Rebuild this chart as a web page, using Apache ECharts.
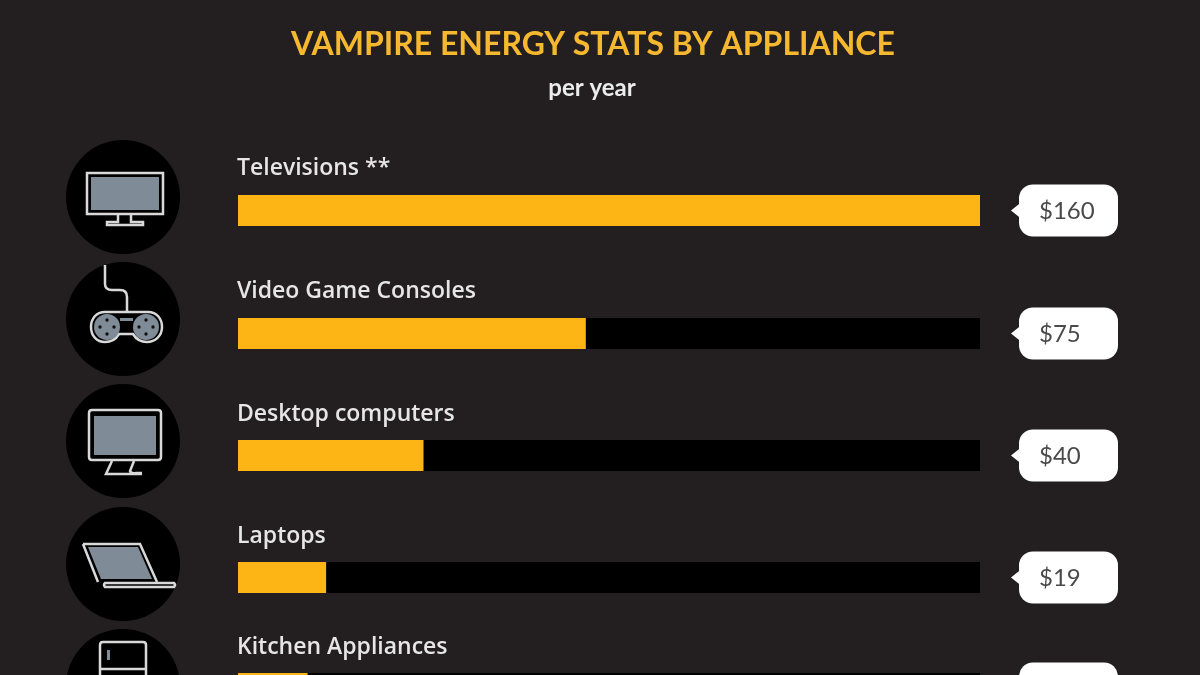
<!DOCTYPE html>
<html>
<head>
<meta charset="utf-8">
<style>
  html, body { margin: 0; padding: 0; background: #231f20; }
  #chart { width: 1200px; height: 675px; }
</style>
</head>
<body>
<div id="chart"></div>
<script src="https://cdn.jsdelivr.net/npm/echarts@6/dist/echarts.min.js"></script>
<script>
const categories = ['Televisions **', 'Video Game Consoles', 'Desktop computers', 'Laptops', 'Kitchen Appliances'];
const costs = [160, 75, 40, 19, 15];
const axisMax = 160;

// layout of the rows, the last one runs off the page
const barTops = [195, 318, 440, 562, 673];
const labelGaps = [38, 38, 37, 37, 37];
const barHeight = 31;
const yellow = '#fdb515';
const line = '#d9d9d9';
const screen = '#7f8b97';

let grids = [], xAxes = [], yAxes = [], series = [];

categories.forEach((name, i) => {
  grids.push({ left: 238, width: 742, top: barTops[i], height: barHeight, outerBoundsMode: 'none' });
  xAxes.push({ gridIndex: i, type: 'value', min: 0, max: axisMax, show: false });
  yAxes.push({ gridIndex: i, type: 'category', data: [name], show: false });
  series.push({
    type: 'bar',
    xAxisIndex: i,
    yAxisIndex: i,
    data: [costs[i]],
    barWidth: '100%',
    silent: true,
    showBackground: true,
    backgroundStyle: { color: '#000' },
    itemStyle: { color: yellow },
    label: {
      show: true,
      position: [-1, -labelGaps[i]],
      formatter: '{b}',
      color: '#e6e6e6',
      fontFamily: 'Open Sans',
      fontWeight: 600,
      fontSize: 23
    }
  });
  // value bubble, hangs off the end of the axis
  series.push({
    type: 'custom',
    xAxisIndex: i,
    yAxisIndex: i,
    silent: true,
    clip: false,
    data: [[axisMax, name, costs[i]]],
    encode: { x: 0, y: 1 },
    renderItem: (params, api) => {
      let p = api.coord([api.value(0), 0]);
      let x = p[0] + 39, y = p[1];
      return {
        type: 'group',
        children: [
          { type: 'polygon', shape: { points: [[x - 8, y], [x + 2, y - 8], [x + 2, y + 8]] }, style: { fill: '#fff' } },
          { type: 'rect', shape: { x: x, y: y - 26, width: 99, height: 52, r: 14 }, style: { fill: '#fff' } },
          { type: 'text', x: x + 20, y: y + 1, style: { text: '$' + api.value(2), fill: '#4a4a4a', font: '24px Lato', textAlign: 'left', textVerticalAlign: 'middle' } }
        ]
      };
    }
  });
});

function outline(d, fill) {
  return { type: 'path', shape: { pathData: d }, style: { fill: fill || 'none', stroke: line, lineWidth: 2.5 } };
}
function solid(d, fill) {
  return { type: 'path', shape: { pathData: d }, style: { fill: fill, stroke: 'none' } };
}
function disc(cy) {
  return { type: 'circle', shape: { cx: 123, cy: cy, r: 57 }, style: { fill: '#000' } };
}
function dots(cx, cy) {
  return [[0, -7], [0, 7], [-7, 0], [7, 0]].map(o => ({
    type: 'circle', shape: { cx: cx + o[0], cy: cy + o[1], r: 1.7 }, style: { fill: '#111' }
  }));
}
function ring(cx, cy) {
  return { type: 'circle', shape: { cx: cx, cy: cy, r: 13 }, style: { fill: screen } };
}

const icons = [
  disc(197), disc(319), disc(441), disc(564), disc(686),
  // tv
  outline('M87 173H163V214H87Z'),
  solid('M91 177H159V210H91Z', screen),
  outline('M118 214V222H107V225H143V222H131V214'),
  // game console
  outline('M105 265V284Q105 290 112 290H120Q127 290 127 297V312'),
  outline('M105 312H148C157 312 162 319 162 327C162 336 155 342 147 342C140 342 136 339 133 334H119C116 339 112 342 105 342C97 342 91 336 91 327C91 319 96 312 105 312Z'),
  ring(107, 327), ring(146, 327),
  ...dots(107, 327), ...dots(146, 327),
  solid('M120 318H133V321H120Z', screen),
  // desktop
  outline('M92 410H158Q161 410 161 413V457Q161 460 158 460H92Q89 460 89 457V413Q89 410 92 410Z'),
  solid('M94 416H156V455H94Z', screen),
  outline('M112 461L106 474H142M134 461L130 471Q131 474 136 473H142'),
  // laptop
  outline('M83 544H140L157 582M83 544L98 582'),
  solid('M88 547H138L152 579H101Z', screen),
  outline('M105 583H174Q176 585 174 587H105Q103 585 105 583Z'),
  // fridge
  outline('M103 642H143Q146 642 146 645V700H100V645Q100 642 103 642ZM100 669H146'),
  solid('M107 650H110V660H107Z', screen)
];

// the appliance pictures sit left of the bars, outside any grid
series.push({
  type: 'custom',
  coordinateSystem: 'none',
  silent: true,
  data: [0],
  renderItem: () => ({ type: 'group', children: icons })
});

let chart = echarts.init(document.getElementById('chart'));
chart.setOption({
  backgroundColor: '#231f20',
  animation: false,
  title: [
    {
      text: 'VAMPIRE ENERGY STATS BY APPLIANCE',
      left: 593, top: 29, padding: 0, textAlign: 'center',
      textStyle: { color: '#f5b82e', fontFamily: 'Lato', fontWeight: 700, fontSize: 32 }
    },
    {
      text: 'per year',
      left: 592, top: 76, padding: 0, textAlign: 'center',
      textStyle: { color: '#ececec', fontFamily: 'Lato', fontWeight: 700, fontSize: 24 }
    }
  ],
  grid: grids,
  xAxis: xAxes,
  yAxis: yAxes,
  series: series
});
</script>
</body>
</html>
